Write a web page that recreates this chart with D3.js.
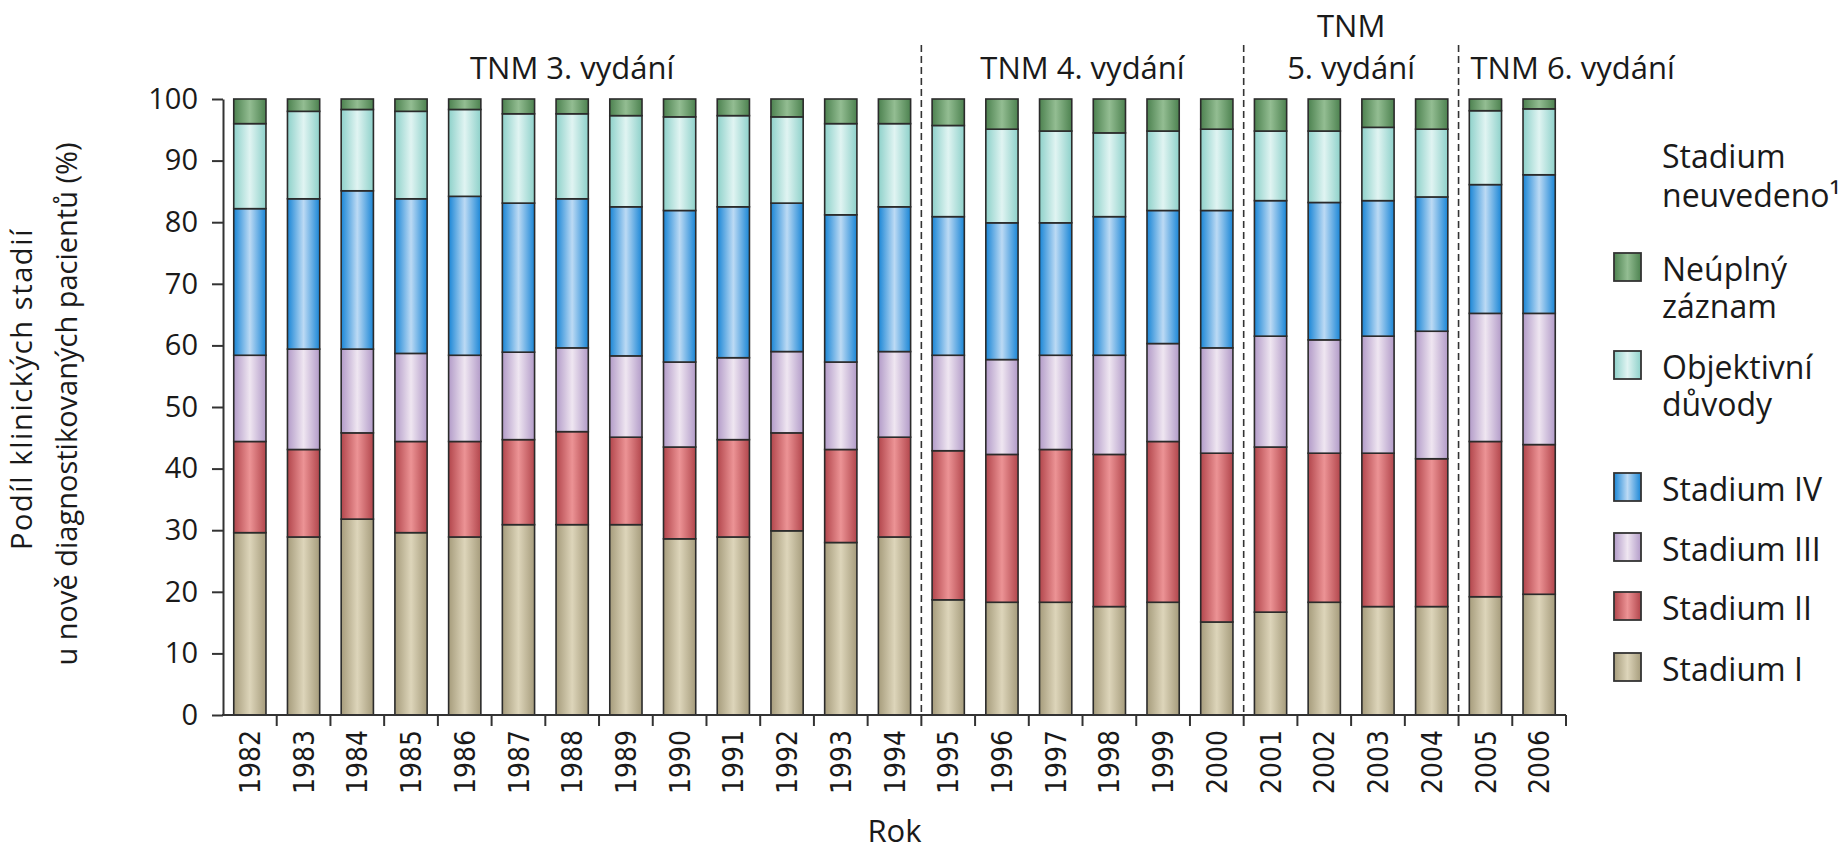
<!DOCTYPE html>
<html><head><meta charset="utf-8">
<script src="https://cdn.jsdelivr.net/npm/d3@7"></script>
<style>
body{margin:0;background:#fff}
svg{display:block}
text{font-family:"Open Sans",sans-serif;fill:#1a1a1a}
</style>
</head><body>
<svg id="c" width="1844" height="852"></svg>
<script>
const years = [1982,1983,1984,1985,1986,1987,1988,1989,1990,1991,1992,1993,1994,1995,1996,1997,1998,1999,2000,2001,2002,2003,2004,2005,2006];
const stadiumI   = [29.6,28.9,31.8,29.6,28.9,30.9,30.9,30.9,28.6,28.9,29.9,28.0,28.9,18.7,18.3,18.3,17.6,18.3,15.1,16.7,18.3,17.6,17.6,19.2,19.6];
const stadiumII  = [14.8,14.2,14.0,14.8,15.5,13.8,15.1,14.2,14.9,15.8,15.9,15.1,16.2,24.2,24.0,24.8,24.7,26.1,27.4,26.8,24.2,24.9,24.0,25.2,24.3];
const stadiumIII = [14.0,16.3,13.6,14.3,14.0,14.2,13.6,13.2,13.8,13.3,13.2,14.2,13.9,15.5,15.4,15.3,16.1,15.9,17.1,18.0,18.4,19.0,20.7,20.8,21.3];
const stadiumIV  = [23.8,24.4,25.7,25.1,25.8,24.2,24.2,24.2,24.6,24.5,24.1,23.9,23.5,22.5,22.2,21.5,22.5,21.6,22.3,22.0,22.3,22.0,21.8,20.9,22.5];
const objektivni = [13.8,14.2,13.2,14.2,14.1,14.5,13.8,14.8,15.2,14.8,14.0,14.8,13.5,14.8,15.2,14.9,13.6,12.9,13.2,11.3,11.6,11.9,11.0,12.0,10.7];
const neuplny    = [4.0,2.0,1.7,2.0,1.7,2.4,2.4,2.7,2.9,2.7,2.9,4.0,4.0,4.3,4.9,5.2,5.5,5.2,4.9,5.2,5.2,4.6,4.9,1.9,1.6];
const yTicks = [0,10,20,30,40,50,60,70,80,90,100];

const seriesKeys = ["I","II","III","IV","obj","neu"];
const seriesValues = {I:stadiumI, II:stadiumII, III:stadiumIII, IV:stadiumIV, obj:objektivni, neu:neuplny};
const legendLabels = {neu:["Neúplný","záznam"], obj:["Objektivní","důvody"], IV:["Stadium IV"], III:["Stadium III"], II:["Stadium II"], I:["Stadium I"]};
const editions = [
  {lines:["TNM 3. vydání"], from:1982, to:1994, align:"middle"},
  {lines:["TNM 4. vydání"], from:1995, to:2000, align:"middle"},
  {lines:["TNM","5. vydání"], from:2001, to:2004, align:"middle"},
  {lines:["TNM 6. vydání"], from:2005, to:2006, align:"start"}
];
const colors = {
  I:["#a69c7c","#ddd5ba"],
  II:["#b2464c","#ec9395"],
  III:["#b29bc8","#efe6f1"],
  IV:["#1a86d6","#bcdaf4"],
  obj:["#8ed1ca","#e0f4f2"],
  neu:["#4d8250","#93bd92"]
};

const svg = d3.select("#c");
const defs = svg.append("defs");
seriesKeys.forEach(k=>{
  const g = defs.append("linearGradient").attr("id","g"+k).attr("x1","0").attr("x2","1").attr("y1","0").attr("y2","0");
  g.append("stop").attr("offset","0%").attr("stop-color",colors[k][0]);
  g.append("stop").attr("offset","50%").attr("stop-color",colors[k][1]);
  g.append("stop").attr("offset","100%").attr("stop-color",colors[k][0]);
});

const X0 = 223, X1 = 1566, Y0 = 715, Y1 = 99;
const x = d3.scaleBand().domain(years).range([X0,X1]).paddingInner(0.4).paddingOuter(0.2);
const y = d3.scaleLinear().domain([0,100]).range([Y0,Y1]);
const step = x.step(), bw = x.bandwidth(), gap = step-bw;
const rightEdge = yr => x(yr)+bw+gap/2;
const leftEdge = yr => x(yr)-gap/2;

const table = years.map((yr,i)=>{const o={year:yr}; seriesKeys.forEach(k=>o[k]=seriesValues[k][i]); return o;});
const stack = d3.stack().keys(seriesKeys)(table);

// bars
const gBars = svg.append("g");
stack.forEach(s=>{
  gBars.append("g").attr("fill","url(#g"+s.key+")").attr("stroke","#2b2b2b").attr("stroke-width",1.6)
    .selectAll("rect").data(s).join("rect")
    .attr("x",d=>x(d.data.year)).attr("width",bw)
    .attr("y",d=>y(d[1])).attr("height",d=>y(d[0])-y(d[1]));
});

// dashed separators
[1994,2000,2004].forEach(yr=>{
  svg.append("line").attr("x1",rightEdge(yr)).attr("x2",rightEdge(yr))
    .attr("y1",45).attr("y2",Y0).attr("stroke","#333").attr("stroke-width",1.6)
    .attr("stroke-dasharray","7,4");
});

// y axis
const yAxis = svg.append("g").attr("transform",`translate(${X0},0)`)
  .call(d3.axisLeft(y).tickValues(yTicks).tickSize(11).tickPadding(14).tickSizeOuter(0));
yAxis.select(".domain").attr("stroke","#333").attr("stroke-width",2);
yAxis.selectAll(".tick line").attr("stroke","#333").attr("stroke-width",2);
yAxis.selectAll(".tick text").style("font-family","'Open Sans',sans-serif").style("font-size","29px").attr("fill","#1a1a1a");

// x axis
const gx = svg.append("g");
gx.append("line").attr("x1",X0-1).attr("x2",X1).attr("y1",Y0).attr("y2",Y0).attr("stroke","#333").attr("stroke-width",2);
gx.selectAll("line.tk").data(years).join("line").attr("class","tk")
  .attr("x1",d=>rightEdge(d)).attr("x2",d=>rightEdge(d)).attr("y1",Y0).attr("y2",Y0+11)
  .attr("stroke","#333").attr("stroke-width",2);
gx.selectAll("text").data(years).join("text")
  .attr("transform",d=>`translate(${x(d)+bw/2},730) rotate(-90)`)
  .attr("text-anchor","end").attr("dy","0.36em")
  .style("font-family","'DejaVu Sans Condensed','DejaVu Sans',sans-serif").style("font-size","28px")
  .text(d=>d);

// edition labels
editions.forEach(e=>{
  const a = leftEdge(e.from), b = rightEdge(e.to);
  const tx = e.align==="middle" ? (a+b)/2 : a+12;
  const n = e.lines.length;
  const t = svg.append("text").attr("text-anchor",e.align).style("font-size","31px");
  e.lines.forEach((ln,i)=>{
    t.append("tspan").attr("x",tx).attr("y",79-(n-1-i)*42).text(ln);
  });
});

// axis titles
svg.append("text").attr("x",(X0+X1)/2).attr("y",842).attr("text-anchor","middle").style("font-size","31px").text("Rok");
const yt = svg.append("text").attr("text-anchor","middle").style("font-size","29px");
yt.append("tspan").attr("x",-389).attr("y",32).style("letter-spacing","1.6px").text("Podíl klinických stadií");
yt.append("tspan").attr("x",-404).attr("y",77).text("u nově diagnostikovaných pacientů (%)");
yt.attr("transform","rotate(-90)");

// legend
const LX = 1614, TX = 1662, SQ = 28;
const lg = svg.append("g");
const lt = lg.append("text").style("font-size","32px");
lt.append("tspan").attr("x",TX).attr("y",168).text("Stadium");
lt.append("tspan").attr("x",TX).attr("y",207).text("neuvedeno¹");
const legendRows = [
  {k:"neu", base:281},
  {k:"obj", base:379},
  {k:"IV", base:501},
  {k:"III", base:561},
  {k:"II", base:620},
  {k:"I", base:681}
];
legendRows.forEach(r=>{
  lg.append("rect").attr("x",LX).attr("y",r.base-SQ).attr("width",SQ-1).attr("height",SQ)
    .attr("fill","url(#g"+r.k+")").attr("stroke","#333").attr("stroke-width",1.8);
  const t = lg.append("text").style("font-size","32px");
  legendLabels[r.k].forEach((ln,i)=>{
    t.append("tspan").attr("x",TX).attr("y",r.base+i*37).text(ln);
  });
});
</script>
</body></html>
